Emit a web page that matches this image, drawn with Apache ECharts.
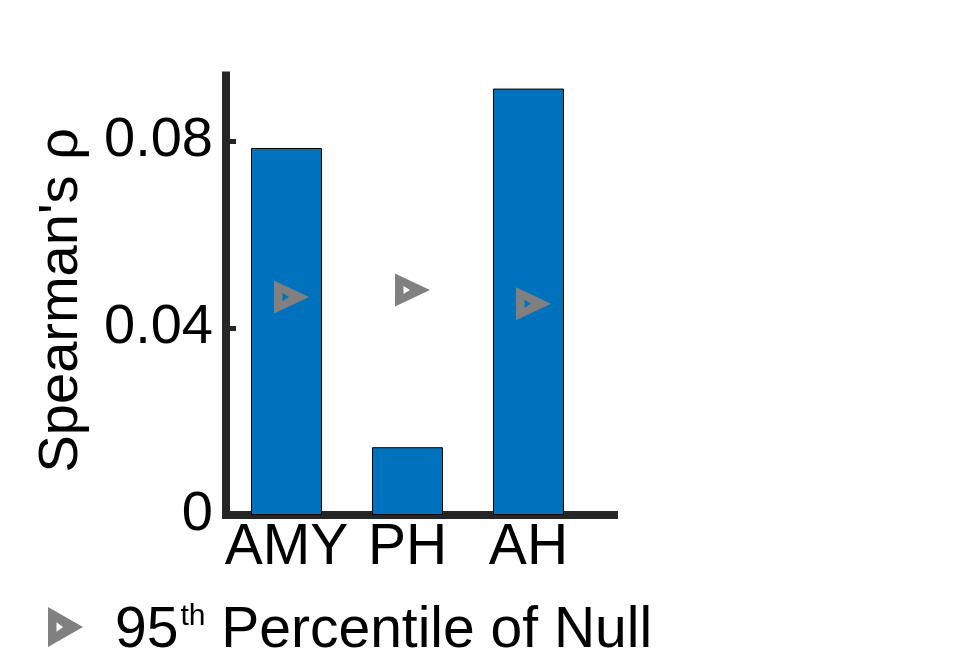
<!DOCTYPE html>
<html>
<head>
<meta charset="utf-8">
<script src="https://cdn.jsdelivr.net/npm/echarts@6/dist/echarts.min.js"></script>
<style>
  html, body { margin: 0; padding: 0; background: #ffffff; }
  #chart { width: 980px; height: 659px; }
</style>
</head>
<body>
<div id="chart"></div>
<script>
// ---- data ----
const categories = ['AMY', 'PH', 'AH'];
const positions = [1, 2, 3];
const rhoValues = [0.0785, 0.0145, 0.0912];
const null95Values = [0.0466, 0.0481, 0.0452];
const yTickValues = [0, 0.04, 0.08];
const yAxisTitle = "Spearman's ρ";
const legendName = '95th Percentile of Null';

// ---- styling ----
const FONT = 'Liberation Sans, Arial, Helvetica, sans-serif';
const AXIS_COLOR = '#262626';
const BAR_COLOR = '#0072BD';
const MARK_COLOR = '#808080';
const TRI_PATH = 'path://M0,0 L35,16.5 L0,33 Z M8.5,12.5 L8.5,20.5 L15,16.5 Z';

const chart = echarts.init(document.getElementById('chart'), null, { renderer: 'canvas' });

const option = {
  backgroundColor: '#ffffff',
  animation: false,
  grid: { left: 226, right: 366, top: 75.5, bottom: 144, containLabel: false },
  xAxis: {
    type: 'value',
    min: 0.5,
    max: 3.707,
    splitLine: { show: false },
    axisLine: { show: true, onZero: false, lineStyle: { color: AXIS_COLOR, width: 8, cap: 'square' } },
    axisTick: { show: true, inside: true, length: 8, customValues: positions, lineStyle: { color: AXIS_COLOR, width: 3 } },
    axisLabel: {
      show: true,
      customValues: positions,
      margin: 5,
      color: '#000',
      fontFamily: FONT,
      fontSize: 57,
      formatter: function (v) {
        const i = positions.indexOf(v);
        return i >= 0 ? categories[i] : '';
      }
    }
  },
  yAxis: {
    type: 'value',
    min: 0,
    max: 0.094,
    interval: 0.04,
    splitLine: { show: false },
    axisLine: { show: true, lineStyle: { color: AXIS_COLOR, width: 8, cap: 'square' } },
    axisTick: { show: true, inside: true, length: 10, customValues: yTickValues, lineStyle: { color: AXIS_COLOR, width: 5 } },
    axisLabel: {
      customValues: yTickValues,
      margin: 13,
      color: '#000',
      fontFamily: FONT,
      fontSize: 56,
      formatter: function (v) { return v === 0 ? '0' : v.toFixed(2); }
    },
    name: yAxisTitle,
    nameLocation: 'middle',
    nameGap: 136,
    nameTextStyle: { color: '#000', fontFamily: FONT, fontSize: 56, padding: [0, 10, 0, 0] }
  },
  legend: {
    show: true,
    left: 43,
    top: 589,
    orient: 'horizontal',
    itemWidth: 35,
    itemHeight: 40,
    symbolKeepAspect: false,
    data: [{ name: legendName, icon: TRI_PATH }],
    formatter: function () { return '{n|95}{s|th}{n| Percentile of Null}'; },
    textStyle: {
      color: '#000',
      fontFamily: FONT,
      rich: {
        n: { fontSize: 57, lineHeight: 57, fontFamily: FONT, color: '#000', padding: [9, 0, 0, 0] },
        s: { fontSize: 30, lineHeight: 30, fontFamily: FONT, color: '#000', verticalAlign: 'top', padding: [3, 0, 0, 2] }
      },
      padding: [0, 0, 0, 27]
    },
    selectedMode: false
  },
  series: [
    {
      name: "rho",
      type: 'bar',
      barWidth: 71,
      data: positions.map((p, i) => [p, rhoValues[i]]),
      itemStyle: { color: BAR_COLOR, borderColor: '#000', borderWidth: 1 },
      z: 2
    },
    {
      name: legendName,
      type: 'scatter',
      symbol: TRI_PATH,
      symbolSize: [35, 33],
      symbolOffset: [5, 0],
      data: positions.map((p, i) => [p, null95Values[i]]),
      itemStyle: { color: MARK_COLOR, opacity: 1 },
      z: 5
    }
  ]
};

chart.setOption(option);
</script>
</body>
</html>
